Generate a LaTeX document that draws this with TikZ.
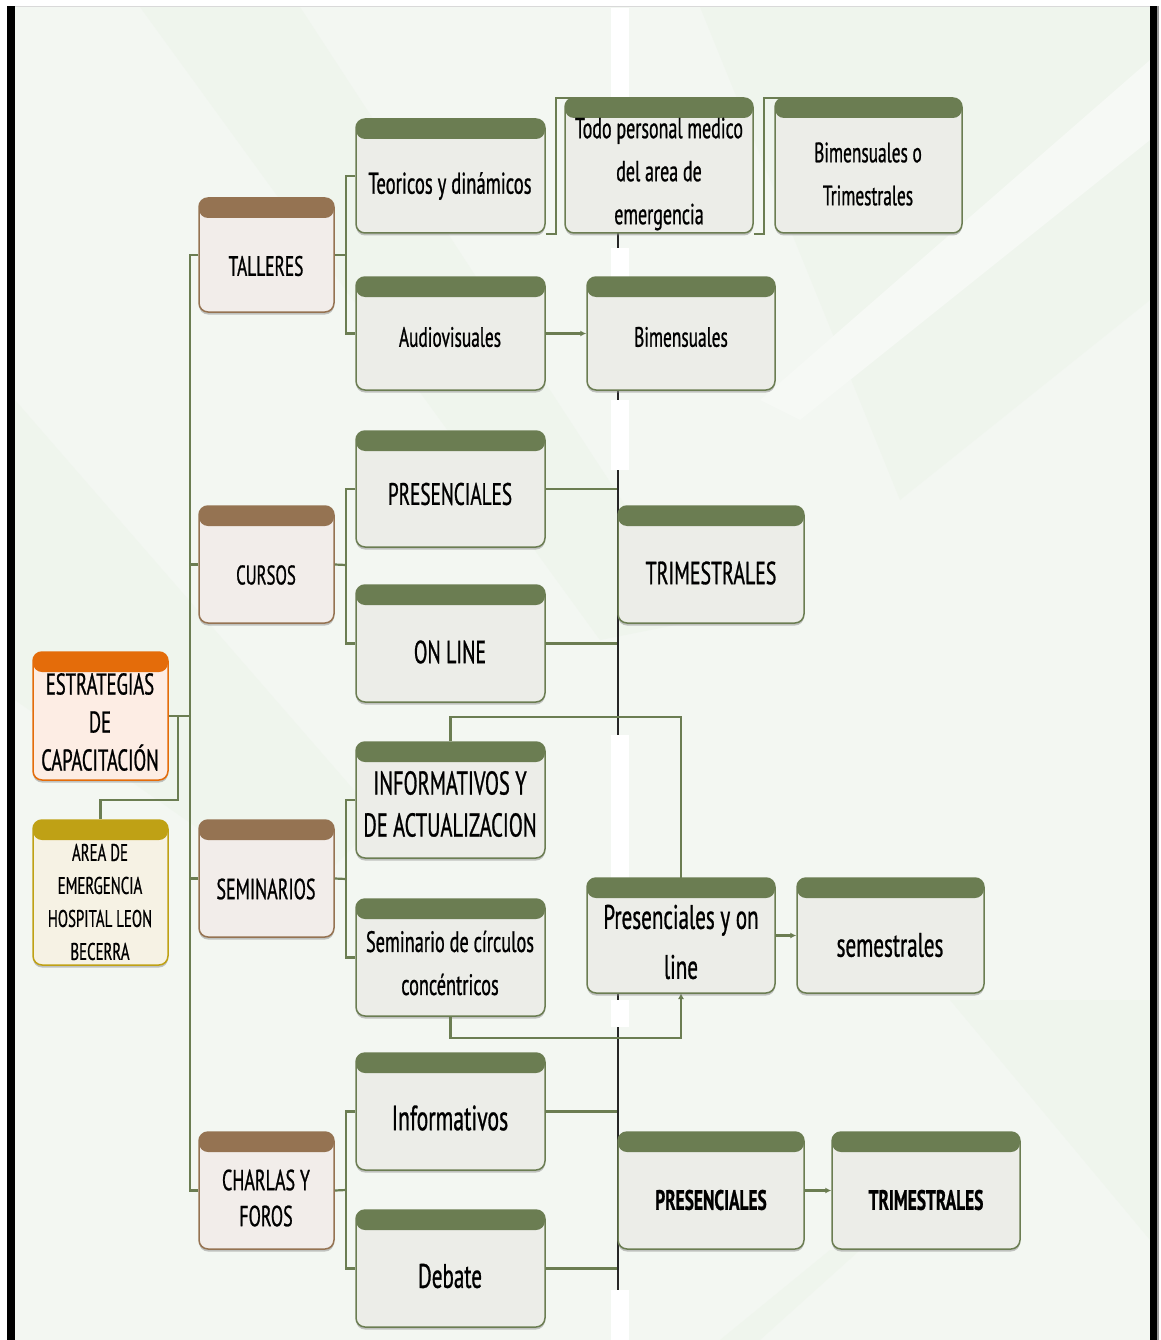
\documentclass[tikz,border=0pt]{standalone}
\usepackage{fontspec}
\setmainfont{PT Sans}[FakeStretch=0.62, FakeBold=0.8]
\usetikzlibrary{arrows.meta,shadows,calc}
\definecolor{hgreen}{RGB}{107,125,82}
\definecolor{fgreen}{RGB}{236,237,232}
\definecolor{hbrown}{RGB}{149,115,82}
\definecolor{fbrown}{RGB}{242,237,234}
\definecolor{horange}{RGB}{228,108,10}
\definecolor{forange}{RGB}{253,237,228}
\definecolor{hgold}{RGB}{191,161,21}
\definecolor{fgold}{RGB}{246,242,228}
\definecolor{bgc}{RGB}{243,247,242}
\definecolor{bgb}{RGB}{239,245,237}
\definecolor{bgl}{RGB}{246,249,245}
\tikzset{
  boxbase/.style={rectangle, rounded corners=9pt, line width=1.5pt, inner sep=0pt,
    drop shadow={shadow xshift=0pt, shadow yshift=-2.5pt, fill=black!45, opacity=0.5}},
  gbox/.style={boxbase, draw=hgreen, fill=fgreen,
    path picture={\fill[hgreen] (path picture bounding box.north west) rectangle ([yshift=-20pt]path picture bounding box.north east);}},
  brbox/.style={boxbase, draw=hbrown, fill=fbrown,
    path picture={\fill[hbrown] (path picture bounding box.north west) rectangle ([yshift=-20pt]path picture bounding box.north east);}},
  orbox/.style={boxbase, draw=horange, fill=forange,
    path picture={\fill[horange] (path picture bounding box.north west) rectangle ([yshift=-20pt]path picture bounding box.north east);}},
  gdbox/.style={boxbase, draw=hgold, fill=fgold,
    path picture={\fill[hgold] (path picture bounding box.north west) rectangle ([yshift=-20pt]path picture bounding box.north east);}},
  txt/.style={inner sep=0pt, align=center, text=black},
  conn/.style={draw=hgreen, line width=2.2pt},
  arr/.style={conn, -{Latex[length=6pt,width=6pt]}},
  blk/.style={draw=black!85, line width=1.4pt}
}
\newcommand\bx[6]{\node[#1, minimum width={#5-#3}, minimum height={#6-#4}] (#2) at ({(#3+#5)/2},{(#4+#6)/2}) {};}
\newcommand\tx[5]{\node[txt, font=\fontsize{#3}{#4}\selectfont] (#1) at (#2) {#5};}
\begin{document}
\begin{tikzpicture}[x=1pt,y=-1pt]
\useasboundingbox (0,0) rectangle (1160,1340);
% page background
\fill[white] (0,0) rectangle (1160,1340);
\fill[bgc] (15,7) rectangle (1150,1340);
\fill[bgb] (140,7) -- (300,7) -- (700,620) -- (600,640) -- cycle;
\fill[bgb] (700,7) -- (1150,7) -- (1150,300) -- (900,500) -- cycle;
\fill[bgl] (1150,60) -- (1150,140) -- (800,420) -- (760,400) -- cycle;
\fill[bgb] (1150,1000) -- (1150,1240) -- (950,1000) -- cycle;
\fill[bgb] (15,400) -- (15,700) -- (300,900) -- (380,820) -- cycle;
\fill[bgb] (830,1250) -- (860,1250) -- (760,1340) -- (720,1340) -- cycle;
\draw[black!15, line width=1pt] (15,6.5) -- (1150,6.5);
\fill[black] (7,6) rectangle (15,1340);
\fill[black] (1150,6) rectangle (1157,1340);
\fill[black!40] (1157,6) rectangle (1159,1340);
% white strip and dark vertical line (screen artefact)
\fill[white] (611,8) rectangle (629,98);
\fill[white] (611,248) rectangle (629,277);
\fill[white] (611,400) rectangle (629,470);
\fill[white] (611,735) rectangle (629,878);
\fill[white] (611,1000) rectangle (629,1027);
\fill[white] (611,1290) rectangle (629,1340);
\draw[blk] (618,233) -- (618,248);
\draw[blk] (618,390) -- (618,400);
\draw[blk] (618,470) -- (618,735);
\draw[blk] (618,993) -- (618,1000);
\draw[blk] (618,1027) -- (618,1290);
% boxes
\bx{orbox}{E}{33}{652}{168}{780}
\bx{gdbox}{A}{33}{820}{168}{965}
\bx{brbox}{T}{199}{198}{334}{312}
\bx{brbox}{C}{199}{506}{334}{623}
\bx{brbox}{S}{199}{820}{334}{937}
\bx{brbox}{Ch}{199}{1132}{334}{1249}
% first level connectors
\coordinate (j0) at (190,716);
\coordinate (j1) at (178,716);
\draw[conn] (E.east) -- (j0);
\draw[conn] (T.west) -| (j0) |- (Ch.west);
\draw[conn] (C.west) -| (j0);
\draw[conn] (S.west) -| (j0);
\draw[conn] (j1) -- (178,800) -| (A.north);
\bx{gbox}{Teo}{356}{119}{545}{233}
\bx{gbox}{Aud}{356}{277}{545}{390}
\bx{gbox}{Bim}{587}{277}{775}{390}
\bx{gbox}{Pre}{356}{431}{545}{547}
\bx{gbox}{On}{356}{585}{545}{702}
\bx{gbox}{Tri}{618}{506}{804}{623}
\bx{gbox}{Inf}{356}{742}{545}{858}
\bx{gbox}{Sem}{356}{899}{545}{1016}
\bx{gbox}{Sms}{797}{878}{984}{993}
\bx{gbox}{InfB}{356}{1053}{545}{1170}
\bx{gbox}{Deb}{356}{1210}{545}{1327}
\bx{gbox}{PreB}{618}{1132}{804}{1249}
\bx{gbox}{TriB}{832}{1132}{1020}{1249}
% second level connectors
\coordinate (jt) at (346,255);
\draw[conn] (T.east) -- (jt);
\draw[conn] (Teo.west) -| (jt) |- (Aud.west);
\coordinate (jc) at (346,565);
\draw[conn] (C.east) -- (jc);
\draw[conn] (Pre.west) -| (jc) |- (On.west);
\coordinate (js) at (346,879);
\draw[conn] (S.east) -- (js);
\draw[conn] (Inf.west) -| (js) |- (Sem.west);
\coordinate (jh) at (346,1190);
\draw[conn] (Ch.east) -- (jh);
\draw[conn] (InfB.west) -| (jh) |- (Deb.west);
% onward connectors
\coordinate (tl) at (565,98);
\coordinate (bl) at (775,98);
\draw[conn] (Teo.south east) -- ++(10,0) |- ([xshift=10pt]tl);
\draw[conn] ([xshift=208pt]Teo.south east) -- ++(10,0) |- ([xshift=10pt]bl);
\draw[arr] (Aud.east) -- (Bim.west);
\draw[conn] (Pre.east) -- (Pre.east -| Tri.west);
\draw[conn] (On.east) -- (On.east -| Tri.west);
\coordinate (pn) at (681,878);
\coordinate (ps) at (681,993);
\draw[conn] (Inf.north) -- ++(0,-24) -| (pn);
\draw[arr] (Sem.south) -- ++(0,21) -| (ps);
\draw[conn] (InfB.east) -- (InfB.east -| PreB.west);
\draw[conn] (Deb.east) -- (Deb.east -| PreB.west);
\draw[arr] (PreB.east) -- (TriB.west);
% boxes drawn over their incoming lines
\bx{gbox}{Todo}{565}{98}{753}{233}
\bx{gbox}{Bi}{775}{98}{962}{233}
\bx{gbox}{Pyo}{587}{878}{775}{993}
\draw[arr] (Pyo.east) -- (Sms.west);
% texts
\tx{tE}{100,722}{30}{38}{ESTRATEGIAS\\DE\\CAPACITACIÓN}
\tx{tA}{100,902}{24}{33}{AREA DE\\EMERGENCIA\\HOSPITAL LEON\\BECERRA}
\tx{tT}{266,266}{28}{30}{TALLERES}
\tx{tC}{266,575}{27}{30}{CURSOS}
\tx{tS}{266,889}{29}{30}{SEMINARIOS}
\tx{tCh}{266,1198}{29}{36}{CHARLAS Y\\FOROS}
\tx{tTeo}{450,186}{30}{32}{Teoricos y dinámicos}
\tx{tAud}{450,337}{28}{32}{Audiovisuales}
\tx{tTodo}{659,174}{29}{43}{Todo personal medico\\del area de\\emergencia}
\tx{tBi}{868,174}{28}{43}{Bimensuales o\\Trimestrales}
\tx{tBim}{681,337}{28}{32}{Bimensuales}
\tx{tPre}{450,494}{31}{32}{PRESENCIALES}
\tx{tOn}{450,652}{32}{32}{ON LINE}
\tx{tTri}{711,573}{32}{32}{TRIMESTRALES}
\tx{tInf}{450,804}{33}{42}{INFORMATIVOS Y\\DE ACTUALIZACION}
\tx{tSem}{450,963}{29.5}{43}{Seminario de círculos\\concéntricos}
\tx{tPyo}{681,942}{34}{50}{Presenciales y on\\line}
\tx{tSms}{890,945}{34}{34}{semestrales}
\tx{tInfB}{450,1118}{35}{34}{Informativos}
\tx{tDeb}{450,1276}{34}{34}{Debate}
\tx{tPreB}{711,1200}{28}{26}{\bfseries PRESENCIALES}
\tx{tTriB}{926,1200}{28}{26}{\bfseries TRIMESTRALES}
\end{tikzpicture}
\end{document}
